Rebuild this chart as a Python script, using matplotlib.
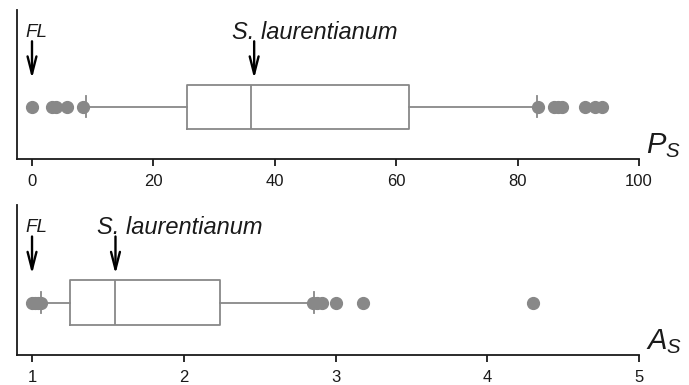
import matplotlib
matplotlib.use("Agg")
import matplotlib.pyplot as plt

plt.rcParams['font.family'] = ['Liberation Sans', 'DejaVu Sans']
plt.rcParams['mathtext.fontset'] = 'custom'
plt.rcParams['mathtext.it'] = 'Liberation Sans:italic'
plt.rcParams['mathtext.rm'] = 'Liberation Sans'

# ---- data: P_S panel ----
ps_stats = dict(q1=25.5, med=36.1, q3=62.1, whislo=8.9, whishi=83.2)
ps_outliers = [0.0, 3.3, 3.9, 5.7, 8.4, 83.4, 86.0, 86.6, 87.3, 91.1, 92.8, 93.9]
ps_ticks = [0, 20, 40, 60, 80, 100]
ps_fl = 0.0
ps_sl = 36.6

# ---- data: A_S panel ----
as_stats = dict(q1=1.25, med=1.55, q3=2.24, whislo=1.06, whishi=2.86)
as_outliers = [1.0, 1.02, 1.04, 1.06, 2.85, 2.88, 2.91, 3.0, 3.18, 4.3]
as_ticks = [1, 2, 3, 4, 5]
as_fl = 1.0
as_sl = 1.55

W, H = 689, 385
fig = plt.figure(figsize=(W / 100, H / 100), dpi=100)

gray = '#888888'
dark = '#1a1a1a'


def px_axes(left, top, right, bottom):
    return fig.add_axes([left / W, 1 - bottom / H, (right - left) / W, (bottom - top) / H])


def panel(ax, stats, outliers, ticks, xlim, fl, sl, fl_text_x, sl_text_x, label):
    s = dict(stats)
    s['fliers'] = outliers
    ax.bxp([s], positions=[0.35], widths=[0.30], orientation='horizontal',
           showfliers=True, capwidths=[0.14],
           boxprops=dict(color=gray, linewidth=1.3),
           medianprops=dict(color=gray, linewidth=1.3),
           whiskerprops=dict(color=gray, linewidth=1.3),
           capprops=dict(color=gray, linewidth=1.3),
           flierprops=dict(marker='o', markerfacecolor=gray, markeredgecolor=gray,
                           markersize=8.5, linestyle='none'))
    ax.set_xlim(*xlim)
    ax.set_ylim(0, 1)
    ax.set_yticks([])
    ax.set_xticks(ticks)
    ax.set_xticklabels([str(t) for t in ticks])
    for sp in ['top', 'right']:
        ax.spines[sp].set_visible(False)
    for sp in ['left', 'bottom']:
        ax.spines[sp].set_color(dark)
        ax.spines[sp].set_linewidth(1.3)
    ax.tick_params(axis='x', length=5, width=1.3, color=dark, labelsize=12, pad=6,
                   labelcolor=dark)
    ax.set_facecolor('none')
    for x in (fl, sl):
        ax.annotate('', xy=(x, 0.54), xytext=(x, 0.79),
                    arrowprops=dict(arrowstyle='->,head_length=1.25,head_width=0.32',
                                    color='black', lw=1.7, shrinkA=0, shrinkB=0))
    ax.text(fl_text_x, 0.82, 'FL', style='italic', fontsize=13.5, ha='center',
            va='baseline', color=dark)
    ax.text(sl_text_x, 0.805, 'S. laurentianum', style='italic', fontsize=17,
            ha='center', va='baseline', color=dark)
    ax.text(1.012, -0.01, label, transform=ax.transAxes, fontsize=21, ha='left',
            va='bottom', color=dark, clip_on=False)


ax1 = px_axes(17, 10, 639, 159)
panel(ax1, ps_stats, ps_outliers, ps_ticks, (-2.47, 100), ps_fl, ps_sl, 0.7, 46.6, '$P_S$')

ax2 = px_axes(17, 205, 639, 355)
panel(ax2, as_stats, as_outliers, as_ticks, (0.901, 5), as_fl, as_sl, 1.028, 1.975, '$A_S$')

fig.savefig('out.png', dpi=100)
